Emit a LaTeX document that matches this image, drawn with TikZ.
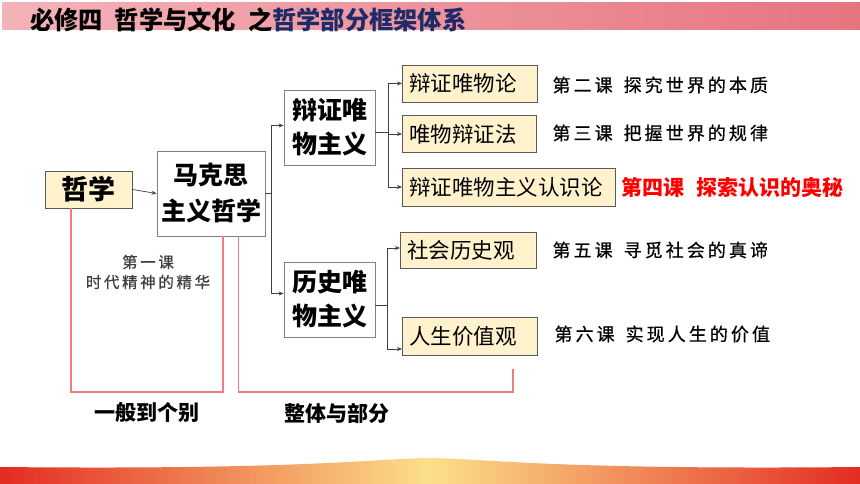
\documentclass[tikz,border=0pt]{standalone}
\usepackage{fontspec}
\setmainfont{Noto Sans CJK SC}
\newfontfamily\headfont[FakeStretch=0.97]{Noto Sans CJK SC}
\newfontfamily\lessonfont[LetterSpace=17,FakeBold=0.5]{Noto Sans CJK SC}
\usetikzlibrary{arrows.meta,calc}

\definecolor{boxcream}{HTML}{FFF2CC}
\definecolor{boxedge}{HTML}{595959}
\definecolor{plainedge}{HTML}{808080}
\definecolor{linkgray}{HTML}{404040}
\definecolor{bracered}{HTML}{F07C7C}
\definecolor{headnavy}{HTML}{1F2A68}
\definecolor{pinkleft}{HTML}{F4B3B9}
\definecolor{pinkright}{HTML}{E6747F}
\definecolor{bandred}{HTML}{E42B22}
\definecolor{bandgold}{HTML}{FCE08A}

\begin{document}
\begin{tikzpicture}[x=1pt,y=-1pt,
    cream/.style={draw=boxedge,fill=boxcream,line width=0.8pt,anchor=west,
        minimum height=37pt,inner xsep=7pt,inner ysep=0pt,text width=#1,align=left,
        font=\fontsize{21.5}{24}\selectfont},
    topic/.style={draw=plainedge,fill=white,line width=0.8pt,inner sep=0pt,
        minimum width=91pt,minimum height=75pt,align=center,
        font=\bfseries\fontsize{25}{34}\selectfont},
    lesson/.style={anchor=west,font=\lessonfont\fontsize{18}{20}\selectfont},
    link/.style={draw=linkgray,line width=0.7pt,-{Stealth[length=5pt,width=4pt]}},
    plain/.style={draw=linkgray,line width=0.7pt},
    brace/.style={draw=bracered,line width=1.3pt},
    rule/.style={font=\bfseries\fontsize{21}{24}\selectfont}]

\useasboundingbox (0,0) rectangle (860,484);
\fill[white] (0,0) rectangle (860,484);

% header band
\shade[left color=pinkleft,right color=pinkright] (2,3) rectangle (860,30);
\node[anchor=west,inner sep=0pt,font=\headfont\bfseries\fontsize{25}{28}\selectfont] (title) at (30,20)
    {必修四\hspace{12pt}哲学与文化\hspace{12pt}之\textcolor{headnavy}{哲学部分框架体系}};

% bottom band
\shade[left color=bandred,right color=bandred,middle color=bandgold]
    (0,484) -- (0,467) .. controls (300,470) and (370,459) .. (430,458)
    .. controls (490,459) and (560,470) .. (860,467) -- (860,484) -- cycle;

% nodes
\node[draw=boxedge,fill=boxcream,line width=0.8pt,minimum width=87pt,minimum height=37pt,
    inner sep=0pt,font=\bfseries\fontsize{27}{30}\selectfont] (zx) at (88.5,189.5) {哲学};
\node[topic,minimum width=108pt,minimum height=85pt,font=\bfseries\fontsize{25}{36}\selectfont]
    (mks) at (211,193.5) {马克思\\主义哲学};
\node[topic] (bz) at (329.5,127.5) {辩证唯\\物主义};
\node[topic] (ls) at (329.5,299.5) {历史唯\\物主义};

\node[cream=121pt] (b1) at (402,83.5) {辩证唯物论};
\node[cream=120pt] (b2) at (402,134) {唯物辩证法};
\node[cream=199pt,minimum height=38pt] (b3) at (402,187) {辩证唯物主义认识论};
\node[cream=122pt,minimum height=36pt] (b4) at (400,250) {社会历史观};
\node[cream=121pt,minimum height=38pt] (b5) at (402,336) {人生价值观};

\node[lesson] (l2) at (549,85) {第二课\hspace{11pt}探究世界的本质};
\node[lesson] (l3) at (549,133) {第三课\hspace{11pt}把握世界的规律};
\node[lesson,text=red,font=\bfseries\fontsize{21}{24}\selectfont] (l4) at (618,187)
    {第四课\hspace{12pt}探索认识的奥秘};
\node[lesson] (l5) at (549,250) {第五课\hspace{11pt}寻觅社会的真谛};
\node[lesson] (l6) at (551,334) {第六课\hspace{11pt}实现人生的价值};

\node[align=center,text=linkgray,font=\lessonfont\fontsize{15.5}{20}\selectfont] (l1) at (148,272)
    {第一课\\时代精神的精华};

% connectors
\draw[link] (zx.east) -- (mks.west);
\coordinate (mkbus) at ($(mks.east)+(6,0)$);
\draw[plain] (mks.east) -- (mkbus);
\draw[link] (mkbus) |- ([yshift=2pt]bz.west);
\draw[link] (mkbus) |- ([yshift=6pt]ls.west);

\coordinate (bzbus) at ($([yshift=-5pt]bz.east)+(13,0)$);
\draw[plain] ([yshift=-5pt]bz.east) -- (bzbus);
\foreach \b in {b1,b2,b3}
    \draw[link] (bzbus) |- (\b.west);

\coordinate (lsbus) at ($([yshift=-5.5pt]ls.east)+(12,0)$);
\draw[plain] ([yshift=-5.5pt]ls.east) -- (lsbus);
\draw[link] (lsbus) |- ([yshift=2pt]b4.west);
\draw[link] (lsbus) |- ([yshift=-13pt]b5.west);

% red brackets
\coordinate (zxfoot) at ($(zx.south west)!0.3!(zx.south east)$);
\coordinate (mkfootL) at ($(mks.south west)!0.61!(mks.south east)$);
\coordinate (mkfootR) at ($(mks.south west)!0.75!(mks.south east)$);
\coordinate (footrow) at (0,392);
\coordinate (partend) at (513,369);
\draw[brace] (zxfoot) -- (zxfoot |- footrow) -| (mkfootL);
\draw[brace] (mkfootR) -- (mkfootR |- footrow) -| (partend);

\node[rule] (r1) at (147,413) {一般到个别};
\node[rule] (r2) at (337,413) {整体与部分};

\end{tikzpicture}
\end{document}
